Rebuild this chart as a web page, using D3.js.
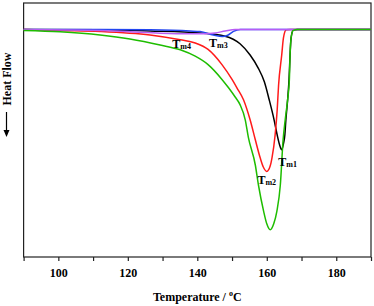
<!DOCTYPE html>
<html>
<head>
<meta charset="utf-8">
<script src="https://cdn.jsdelivr.net/npm/d3@7"></script>
<style>
  body { margin: 0; background: #fff; }
</style>
</head>
<body>
<div id="chart"></div>
<script>
// DSC melting curves (temperature in C, heat flow in arb. units)
var tempTicks = [90, 100, 110, 120, 130, 140, 150, 160, 170, 180, 190];
var tickLabels = [100, 120, 140, 160, 180];

var curveBlack = [[90, 0], [112, -0.01], [126.4, -0.04], [140.8, -0.09], [148, -0.17], [152.3, -0.36],
  [155.2, -0.64], [157.5, -0.96], [159.3, -1.31], [160.7, -1.76], [162.1, -2.26], [163, -2.64],
  [163.7, -2.89], [164.3, -3.01], [164.8, -2.86], [165.2, -2.64], [165.5, -2.26], [166, -1.76],
  [166.4, -1.26], [166.7, -0.64], [167, -0.21], [167.6, -0.025], [168.8, 0], [190, 0]];

var curveRed = [[90, 0], [100.5, -0.025], [112, -0.05], [126.4, -0.14], [135.1, -0.26], [139.4, -0.34],
  [143.1, -0.5], [147.1, -0.88], [150, -1.25], [151.4, -1.46], [153.3, -1.76], [155.2, -2.26],
  [156.7, -2.76], [158.1, -3.21], [159, -3.44], [160, -3.55], [161, -3.41], [161.5, -3.21],
  [162.4, -2.64], [163, -2.01], [163.4, -1.39], [164.3, -0.64], [164.8, -0.21], [165.6, -0.01],
  [166.8, 0], [190, 0]];

var curveBlue = [[90, 0], [112, 0], [126.4, -0.01], [137.9, -0.04], [140.8, -0.055], [144.6, -0.14],
  [147.2, -0.18], [148.9, -0.14], [150.4, -0.05], [152.4, 0], [158, 0], [190, 0]];

var curvePurple = [[90, 0], [112, -0.025], [120.6, -0.06], [129.3, -0.095], [137.9, -0.11],
  [142.3, -0.11], [145.1, -0.09], [148, -0.04], [150.9, 0], [190, 0]];

var curveGreen = [[90, -0.025], [100.5, -0.06], [112, -0.14], [120.6, -0.24], [129.3, -0.39],
  [135.1, -0.51], [139.4, -0.67], [143.1, -0.88], [147.1, -1.25], [149, -1.46], [150.9, -1.69],
  [152.3, -1.88], [153.8, -2.26], [154.7, -2.7], [156.7, -3.39], [157.6, -3.89], [159.1, -4.55],
  [160, -4.86], [161, -5.01], [162, -4.86], [162.9, -4.55], [163.9, -3.89], [164.7, -2.76],
  [165.3, -2.26], [166, -1.76], [166.5, -1.26], [166.7, -0.64], [167, -0.21], [167.6, -0.025],
  [168.8, 0], [190, 0]];

var peakNames = ["m4", "m3", "m1", "m2"];
var peakT = [132.8, 143.4, 163.3, 157.3];
var peakHF = [-0.46, -0.44, -3.41, -3.86];

var svgWidth = 374;
var svgHeight = 306;

var margin = {
  top: 3,
  right: 3,
  bottom: 49,
  left: 23.6
};

var width = svgWidth - margin.left - margin.right;
var height = svgHeight - margin.top - margin.bottom;

var serif = "'Liberation Serif', 'Times New Roman', Times, 'DejaVu Serif', serif";

var svg = d3.select("#chart")
  .append("svg")
  .attr("width", svgWidth)
  .attr("height", svgHeight)
  .style("font-family", serif)
  .style("font-weight", "bold");

var chartGroup = svg.append("g")
  .attr("transform", `translate(${margin.left}, ${margin.top})`);

// scales
var xLinearScale = d3.scaleLinear()
  .domain([90, 190])
  .range([0, width]);

var yLinearScale = d3.scaleLinear()
  .domain([-5.69, 0.66])
  .range([height, 0]);

// x axis, ticks every 10, labels every 20
var bottomAxis = d3.axisBottom(xLinearScale)
  .tickValues(tempTicks)
  .tickSize(4)
  .tickPadding(7)
  .tickFormat(d => tickLabels.indexOf(d) >= 0 ? d : "");

var xAxisGroup = chartGroup.append("g")
  .attr("transform", `translate(0, ${height})`)
  .call(bottomAxis)
  .attr("font-family", null)
  .attr("font-size", null);

xAxisGroup.select(".domain").remove();
xAxisGroup.selectAll("line").attr("stroke", "#222").attr("stroke-width", 1.2);
xAxisGroup.selectAll("text")
  .attr("fill", "#000")
  .style("font-size", "12px")
  .style("font-family", serif)
  .style("font-weight", "bold");

// frame
chartGroup.append("rect")
  .attr("x", 0)
  .attr("y", 0)
  .attr("width", width)
  .attr("height", height)
  .attr("fill", "none")
  .attr("stroke", "#222")
  .attr("stroke-width", 1.2);

// curves
var line = d3.line()
  .x(d => xLinearScale(d[0]))
  .y(d => yLinearScale(d[1]))
  .curve(d3.curveMonotoneX);

var series = [
  { data: curveBlack, color: "#000000" },
  { data: curveRed, color: "#ff1a1a" },
  { data: curveBlue, color: "#2346f0" },
  { data: curvePurple, color: "#b85cf5" },
  { data: curveGreen, color: "#1ebd00" }
];

chartGroup.selectAll(".curve")
  .data(series)
  .enter()
  .append("path")
  .attr("class", "curve")
  .attr("d", d => line(d.data))
  .attr("fill", "none")
  .attr("stroke", d => d.color)
  .attr("stroke-width", 1.5);

// peak labels
var labels = chartGroup.selectAll(".peak")
  .data(peakNames)
  .enter()
  .append("text")
  .attr("class", "peak")
  .attr("x", (d, i) => xLinearScale(peakT[i]))
  .attr("y", (d, i) => yLinearScale(peakHF[i]))
  .style("font-size", "12px");

labels.append("tspan").text("T");
labels.append("tspan")
  .style("font-size", "8px")
  .attr("dy", 1)
  .text(d => d);

// axis titles
var xTitle = svg.append("text")
  .attr("x", margin.left + width / 2)
  .attr("y", 301)
  .attr("text-anchor", "middle")
  .style("font-size", "12px");

xTitle.append("tspan").text("Temperature / ");
xTitle.append("tspan").attr("dy", -5).style("font-size", "8px").text("o");
xTitle.append("tspan").attr("dy", 5).text("C");

svg.append("text")
  .attr("transform", "translate(11, 79) rotate(-90)")
  .attr("text-anchor", "middle")
  .style("font-size", "12px")
  .text("Heat Flow");

// arrow showing endothermic direction
svg.append("line")
  .attr("x1", 6.5)
  .attr("x2", 6.5)
  .attr("y1", 112)
  .attr("y2", 132)
  .attr("stroke", "#000")
  .attr("stroke-width", 1.2);

svg.append("path")
  .attr("d", "M3.5,130 L9.5,130 L6.5,137 Z")
  .attr("fill", "#000");
</script>
</body>
</html>
